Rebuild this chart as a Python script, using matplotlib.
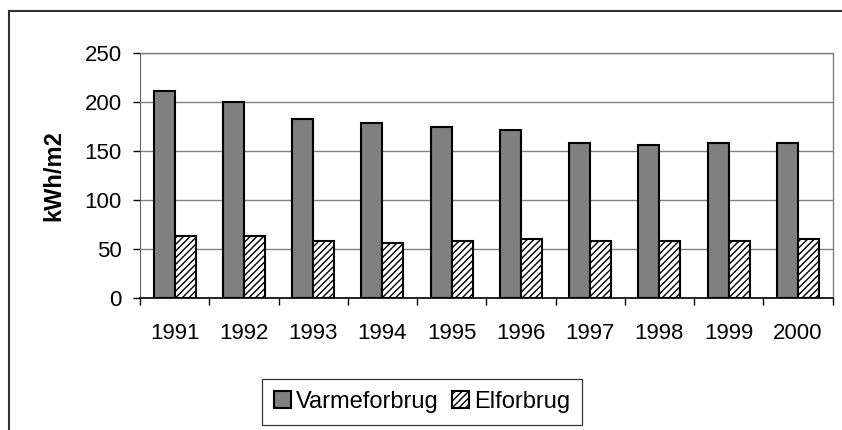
import matplotlib.pyplot as plt
import numpy as np
from matplotlib.lines import Line2D

plt.rcParams['font.family'] = ['Liberation Sans', 'DejaVu Sans']
plt.rcParams['hatch.linewidth'] = 1.0

# data
years = ['1991', '1992', '1993', '1994', '1995', '1996', '1997', '1998', '1999', '2000']
varmeforbrug = [211, 200, 182, 178, 174, 171, 158, 156, 158, 158]
elforbrug = [63, 63, 58, 56, 58, 60, 58, 58, 58, 60]

fig = plt.figure(figsize=(8.42, 4.3), dpi=100)
ax = fig.add_axes([140 / 842, 132.3 / 430, 692.5 / 842, 245 / 430])

x = np.arange(len(years))
w = 0.303
ax.bar(x - w / 2, varmeforbrug, w, color='#808080', edgecolor='black',
       linewidth=1.5, label='Varmeforbrug', zorder=3)
ax.bar(x + w / 2, elforbrug, w, color='white', edgecolor='black', hatch='/////',
       linewidth=1.5, label='Elforbrug', zorder=3)

ax.set_xlim(-0.5, len(years) - 0.5)
ax.set_ylim(0, 250)
ax.set_yticks(np.arange(0, 251, 50))
ax.yaxis.grid(True, color='#808080', linewidth=1.0, zorder=0)
ax.set_axisbelow(True)

# year labels centred, tick marks between categories
ax.set_xticks(x)
ax.set_xticklabels(years)
ax.set_xticks(np.arange(-0.5, len(years)), minor=True)
ax.tick_params(axis='x', which='major', length=0, pad=18, labelsize=16)
ax.tick_params(axis='x', which='minor', length=5, width=1, color='black')
ax.tick_params(axis='y', length=5, width=1, pad=8, labelsize=16)

for side in ['top', 'right']:
    ax.spines[side].set_color('#808080')
    ax.spines[side].set_linewidth(1.0)
ax.spines['left'].set_color('#606060')
ax.spines['bottom'].set_color('black')
ax.spines['bottom'].set_linewidth(1.2)

ax.set_ylabel('kWh/m2', fontsize=17, fontweight='bold', labelpad=14)

leg = fig.legend(loc='center', bbox_to_anchor=(422 / 842, 1 - 402 / 430), ncol=2,
                 fontsize=17, frameon=True, fancybox=False, handlelength=0.7,
                 handleheight=0.7, handletextpad=0.2, columnspacing=0.6,
                 borderpad=0.5, borderaxespad=0)
leg.get_frame().set_edgecolor('black')
leg.get_frame().set_linewidth(0.9)

# outer chart frame (left and top edges visible)
fig.add_artist(Line2D([9 / 842, 9 / 842], [0, 1 - 10.7 / 430], transform=fig.transFigure,
                      color='#303030', linewidth=1.5))
fig.add_artist(Line2D([9 / 842, 1], [1 - 10.7 / 430, 1 - 10.7 / 430], transform=fig.transFigure,
                      color='#303030', linewidth=1.5))

fig.savefig('out.png', dpi=100)
